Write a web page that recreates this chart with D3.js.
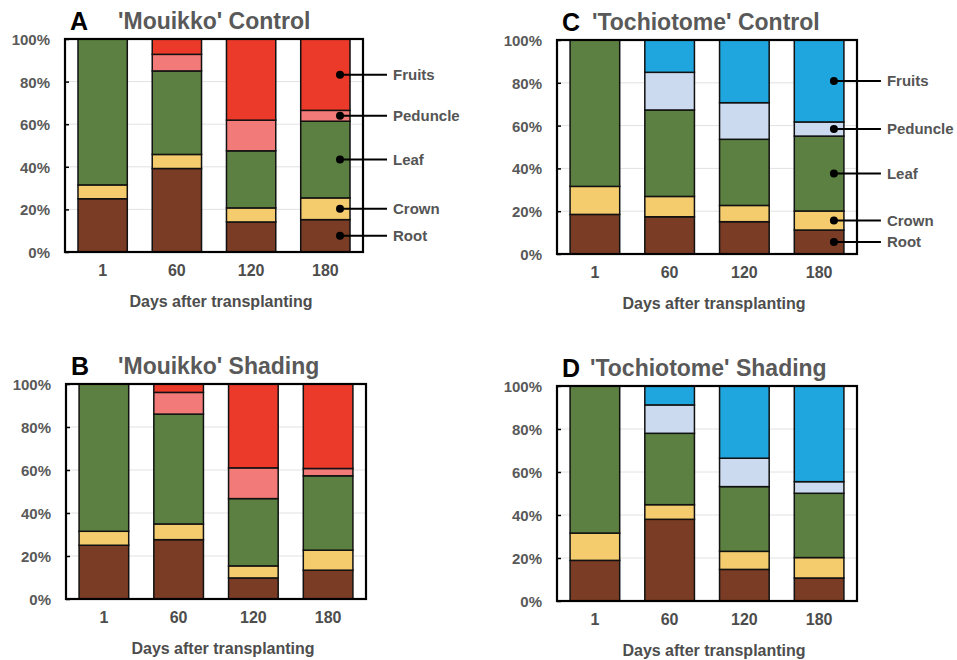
<!DOCTYPE html>
<html>

<style>
    body {
        margin: 0;
        font-family: "Liberation Sans", Arial, sans-serif;
        background: #fff;
    }

    text {
        font-weight: bold;
    }

    .tick text {
        fill: #595959;
        font-size: 15px;
    }

    .xlab {
        fill: #4d4d4d;
        font-size: 16px;
        text-anchor: middle;
    }

    .legend-label {
        fill: #555;
        font-size: 15px;
    }
</style>

<body>
    <svg id='viz' width='957' height='660'></svg>

<script src="https://cdnjs.cloudflare.com/ajax/libs/d3/7.8.5/d3.min.js"></script>

<script>
    var days = ['1', '60', '120', '180'];
    var organs = ['Root', 'Crown', 'Leaf', 'Peduncle', 'Fruits'];
    var yTicks = [0, 20, 40, 60, 80, 100];

    // percent of dry matter
    var mouikkoControl = {
        Root:     [25.0, 39.2, 14.1, 15.2],
        Crown:    [6.5, 6.6, 6.6, 10.2],
        Leaf:     [68.5, 39.2, 26.8, 36.0],
        Peduncle: [0, 7.8, 14.4, 5.1],
        Fruits:   [0, 7.2, 38.1, 33.5]
    };
    var mouikkoShading = {
        Root:     [25.0, 27.6, 9.8, 13.4],
        Crown:    [6.5, 7.3, 5.6, 9.3],
        Leaf:     [68.5, 51.1, 31.3, 34.6],
        Peduncle: [0, 10.1, 14.3, 3.4],
        Fruits:   [0, 3.9, 39.0, 39.3]
    };
    var tochiotomeControl = {
        Root:     [18.5, 17.4, 15.1, 11.2],
        Crown:    [13.1, 9.5, 7.6, 8.9],
        Leaf:     [68.4, 40.4, 30.9, 35.0],
        Peduncle: [0, 17.6, 17.1, 6.6],
        Fruits:   [0, 15.1, 29.3, 38.3]
    };
    var tochiotomeShading = {
        Root:     [18.9, 38.0, 14.7, 10.7],
        Crown:    [12.7, 6.8, 8.4, 9.5],
        Leaf:     [68.4, 33.2, 30.1, 29.9],
        Peduncle: [0, 13.2, 13.2, 5.4],
        Fruits:   [0, 8.8, 33.6, 44.5]
    };

    var mouikkoColors = ['#7a3c24', '#f4cc6d', '#5b8041', '#f27b79', '#eb3a2a'];
    var tochiotomeColors = ['#7a3c24', '#f4cc6d', '#5b8041', '#cbdaee', '#1fa6de'];

    var panels = [
        { letter: 'A', title: "'Mouikko' Control", data: mouikkoControl, colors: mouikkoColors,
          x: 65, y: 39, w: 298, h: 213, titleX: 118, legend: true },
        { letter: 'B', title: "'Mouikko' Shading", data: mouikkoShading, colors: mouikkoColors,
          x: 66, y: 384, w: 300, h: 215, titleX: 118, legend: false },
        { letter: 'C', title: "'Tochiotome' Control", data: tochiotomeControl, colors: tochiotomeColors,
          x: 557, y: 40, w: 300, h: 214, titleX: 592, legend: true },
        { letter: 'D', title: "'Tochiotome' Shading", data: tochiotomeShading, colors: tochiotomeColors,
          x: 557, y: 386, w: 300, h: 215, titleX: 590, legend: false }
    ];

    var svg = d3.select('#viz');

    panels.forEach(drawPanel);

    function drawPanel(p) {
        var g = svg.append('g')
            .attr('transform', 'translate(' + p.x + ',' + p.y + ')');

        var x = d3.scaleBand()
            .domain(days)
            .range([0, p.w])
            .paddingInner(0.336)
            .paddingOuter(0.175);

        var y = d3.scaleLinear()
            .domain([0, 100])
            .range([p.h, 0]);

        var color = d3.scaleOrdinal()
            .domain(organs)
            .range(p.colors);

        // grid lines
        g.selectAll('line.grid')
            .data(yTicks.slice(1, -1))
            .enter()
            .append('line')
            .attr('class', 'grid')
            .attr('x1', 0)
            .attr('x2', p.w)
            .attr('y1', function(d) { return y(d); })
            .attr('y2', function(d) { return y(d); })
            .attr('stroke', '#e2e2e2')
            .attr('stroke-width', 1);

        var rows = days.map(function(day, i) {
            var row = { day: day };
            organs.forEach(function(o) { row[o] = p.data[o][i]; });
            return row;
        });

        var series = d3.stack().keys(organs)(rows);

        g.selectAll('g.layer')
            .data(series)
            .enter()
            .append('g')
            .attr('class', 'layer')
            .attr('fill', function(d) { return color(d.key); })
            .selectAll('rect')
            .data(function(d) { return d.filter(function(s) { return s[1] - s[0] > 0; }); })
            .enter()
            .append('rect')
            .attr('x', function(d) { return x(d.data.day); })
            .attr('width', x.bandwidth())
            .attr('y', function(d) { return y(d[1]); })
            .attr('height', function(d) { return y(d[0]) - y(d[1]); })
            .attr('stroke', '#111')
            .attr('stroke-width', 1.5);

        // box around the plot
        g.append('rect')
            .attr('width', p.w)
            .attr('height', p.h)
            .attr('fill', 'none')
            .attr('stroke', '#000')
            .attr('stroke-width', 2.2);

        var yAxis = g.append('g')
            .call(d3.axisLeft(y)
                .tickValues(yTicks)
                .tickSize(-4)
                .tickPadding(15)
                .tickFormat(function(d) { return d + '%'; }));
        yAxis.select('.domain').remove();
        yAxis.selectAll('.tick line').attr('stroke', '#000').attr('stroke-width', 1.5);
        yAxis.selectAll('.tick text').attr('dy', '0.36em');

        g.selectAll('text.xlab')
            .data(days)
            .enter()
            .append('text')
            .attr('class', 'xlab')
            .attr('x', function(d) { return x(d) + x.bandwidth() / 2; })
            .attr('y', p.h + 24)
            .text(function(d) { return d; });

        g.append('text')
            .attr('x', p.w / 2 + 7)
            .attr('y', p.h + 55)
            .attr('text-anchor', 'middle')
            .attr('fill', '#4d4d4d')
            .attr('font-size', '16px')
            .text('Days after transplanting');

        // titles
        svg.append('text')
            .attr('x', p.x + 5)
            .attr('y', p.y - 9)
            .attr('fill', '#000')
            .attr('font-size', '25px')
            .text(p.letter);

        svg.append('text')
            .attr('x', p.titleX)
            .attr('y', p.y - 10)
            .attr('fill', '#595959')
            .attr('font-size', '23px')
            .text(p.title);

        if (p.legend) {
            var last = days[days.length - 1];
            var barRight = x(last) + x.bandwidth();
            var lastSegs = series.map(function(s) {
                var seg = s[s.length - 1];
                return { key: s.key, mid: (seg[0] + seg[1]) / 2 };
            });

            var leg = g.selectAll('g.legend')
                .data(lastSegs)
                .enter()
                .append('g')
                .attr('class', 'legend')
                .attr('transform', function(d) { return 'translate(0,' + y(d.mid) + ')'; });

            leg.append('line')
                .attr('x1', barRight - 10)
                .attr('x2', barRight + 37)
                .attr('stroke', '#000')
                .attr('stroke-width', 2);

            leg.append('circle')
                .attr('cx', barRight - 10)
                .attr('r', 4)
                .attr('fill', '#000');

            leg.append('text')
                .attr('class', 'legend-label')
                .attr('x', barRight + 43)
                .attr('dy', '0.36em')
                .text(function(d) { return d.key; });
        }
    }
</script>
</body>
</html>
